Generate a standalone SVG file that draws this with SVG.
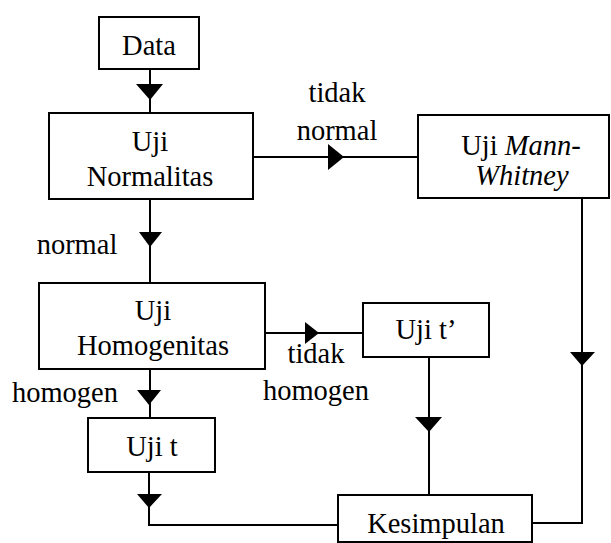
<svg xmlns="http://www.w3.org/2000/svg" width="611" height="543" viewBox="0 0 611 543">
<style>
.box{fill:#fff;stroke:#000;stroke-width:2}
.ln{fill:none;stroke:#000;stroke-width:2}
.ah{fill:#000;stroke:none}
text{font-family:'Liberation Serif','DejaVu Serif',serif;font-size:28.5px;fill:#000;text-anchor:middle}
.it{font-style:italic}
</style>
<rect width="611" height="543" fill="#fff"/>
<g id="connectors">
<path class="ln" d="M150,69 V113"/>
<polygon class="ah" points="136,84 163,84 150,100"/>
<path class="ln" d="M253,157 H418"/>
<polygon class="ah" points="328,144 328,170 344,157"/>
<path class="ln" d="M150,199 V283"/>
<polygon class="ah" points="139,232 162,232 150,247"/>
<path class="ln" d="M265,333 H363"/>
<polygon class="ah" points="305,322 305,344 319,333"/>
<path class="ln" d="M150,369 V418"/>
<polygon class="ah" points="137,390 161,390 149,405"/>
<path class="ln" d="M429,357 V495"/>
<polygon class="ah" points="415,417 442,417 429,432"/>
<path class="ln" d="M149,472 V525 H338"/>
<polygon class="ah" points="137,494 162,494 149,508"/>
<path class="ln" d="M582,198 V523 H532"/>
<polygon class="ah" points="570,352 595,352 582,366"/>
<text x="337" y="102">tidak</text>
<text x="337" y="140">normal</text>
<text x="77" y="254">normal</text>
<text x="316" y="363">tidak</text>
<text x="316" y="400">homogen</text>
<text x="65" y="402">homogen</text>
</g>
<g id="data">
<rect class="box" x="99" y="17" width="100" height="52"/>
<text x="149" y="55">Data</text>
</g>
<g id="uji-normalitas">
<rect class="box" x="49" y="113" width="204" height="86"/>
<text x="150" y="151">Uji</text>
<text x="150" y="186">Normalitas</text>
</g>
<g id="uji-mann-whitney">
<rect class="box" x="418" y="115" width="191" height="83"/>
<text x="521" y="155">Uji <tspan class="it">Mann-</tspan></text>
<text x="522" y="185" class="it">Whitney</text>
</g>
<g id="uji-homogenitas">
<rect class="box" x="39" y="283" width="226" height="86"/>
<text x="153" y="320">Uji</text>
<text x="153" y="355">Homogenitas</text>
</g>
<g id="uji-t-aksen">
<rect class="box" x="363" y="303" width="126" height="54"/>
<text x="426" y="339">Uji t’</text>
</g>
<g id="uji-t">
<rect class="box" x="88" y="418" width="127" height="54"/>
<text x="152" y="456">Uji t</text>
</g>
<g id="kesimpulan">
<rect class="box" x="338" y="495" width="194" height="47"/>
<text x="436" y="533">Kesimpulan</text>
</g>
</svg>
